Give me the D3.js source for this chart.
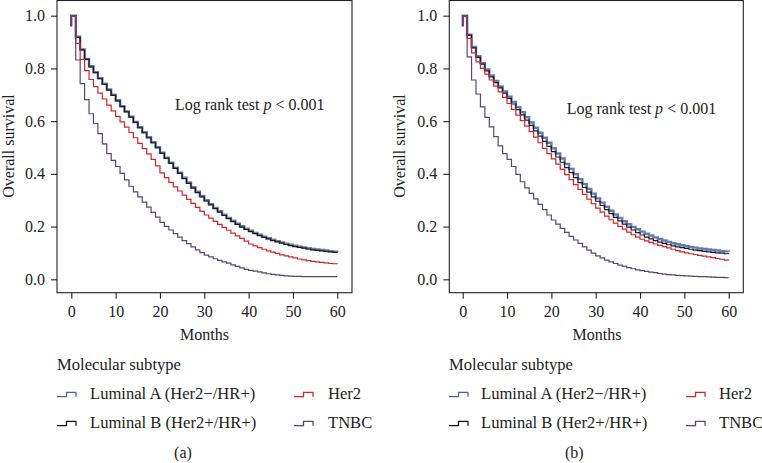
<!DOCTYPE html>
<html><head><meta charset="utf-8">
<script src="https://cdn.jsdelivr.net/npm/d3@7"></script>
<style>
body{margin:0;background:#fff}
svg{display:block;font-family:"Liberation Serif","Times New Roman",serif}
</style>
</head><body>
<svg id="c" width="762" height="463"></svg>
<script>
// ---------- data ----------
const months = d3.range(0, 61);
const xTicks = [0, 10, 20, 30, 40, 50, 60];
const yTicks = [0, 0.2, 0.4, 0.6, 0.8, 1.0];
const groups = ["Luminal A (Her2\u2212/HR+)", "Luminal B (Her2+/HR+)", "Her2", "TNBC"];
const groupColors = ["#4f63a6", "#1a1a1a", "#d7232b", "#5e4473"];
const startTick = 0.96;

// Panel (a)
const a_lumA = [1.0,0.920,0.872,0.836,0.808,0.786,0.763,0.742,0.720,0.700,0.679,0.657,0.637,0.617,0.597,0.577,0.558,0.539,0.520,0.501,0.480,0.461,0.442,0.423,0.404,0.385,0.367,0.349,0.332,0.316,0.300,0.285,0.271,0.258,0.245,0.233,0.222,0.211,0.201,0.192,0.184,0.176,0.169,0.162,0.156,0.150,0.145,0.140,0.135,0.131,0.127,0.124,0.121,0.118,0.115,0.113,0.111,0.109,0.107,0.105,0.104];
const a_lumB = [1.0,0.918,0.870,0.834,0.806,0.784,0.761,0.740,0.718,0.698,0.677,0.655,0.635,0.615,0.595,0.575,0.556,0.537,0.518,0.499,0.478,0.459,0.440,0.421,0.402,0.382,0.364,0.346,0.329,0.313,0.297,0.282,0.268,0.255,0.242,0.230,0.219,0.208,0.198,0.189,0.181,0.173,0.166,0.159,0.153,0.147,0.142,0.137,0.132,0.128,0.124,0.121,0.118,0.115,0.112,0.110,0.108,0.106,0.104,0.102,0.101];
const a_her2 = [1.0,0.895,0.834,0.792,0.758,0.731,0.706,0.684,0.661,0.639,0.618,0.597,0.577,0.557,0.537,0.516,0.496,0.476,0.455,0.430,0.404,0.386,0.368,0.351,0.335,0.319,0.303,0.288,0.273,0.258,0.244,0.232,0.220,0.208,0.197,0.186,0.175,0.165,0.155,0.145,0.134,0.127,0.120,0.114,0.108,0.103,0.098,0.093,0.089,0.085,0.081,0.077,0.074,0.071,0.068,0.066,0.064,0.062,0.060,0.059,0.058];
const a_tnbc = [1.0,0.832,0.742,0.682,0.628,0.591,0.553,0.514,0.477,0.451,0.428,0.402,0.377,0.353,0.332,0.313,0.293,0.274,0.254,0.236,0.216,0.201,0.187,0.173,0.160,0.147,0.135,0.123,0.112,0.101,0.092,0.085,0.078,0.072,0.066,0.061,0.055,0.049,0.043,0.038,0.034,0.031,0.028,0.024,0.021,0.019,0.017,0.015,0.013,0.012,0.011,0.011,0.010,0.010,0.010,0.010,0.010,0.010,0.010,0.010,0.010];

// Panel (b)
const b_lumA = [1.0,0.928,0.881,0.846,0.820,0.796,0.773,0.752,0.732,0.713,0.693,0.673,0.653,0.634,0.615,0.595,0.575,0.556,0.537,0.518,0.497,0.477,0.458,0.438,0.419,0.399,0.380,0.361,0.343,0.325,0.307,0.291,0.275,0.260,0.246,0.233,0.220,0.209,0.199,0.190,0.181,0.173,0.166,0.159,0.153,0.147,0.142,0.137,0.133,0.129,0.126,0.123,0.120,0.117,0.115,0.113,0.111,0.109,0.107,0.106,0.105];
const b_lumB = [1.0,0.926,0.878,0.842,0.816,0.791,0.768,0.746,0.726,0.706,0.686,0.665,0.644,0.624,0.604,0.584,0.563,0.543,0.523,0.504,0.484,0.464,0.444,0.424,0.405,0.386,0.367,0.349,0.331,0.313,0.296,0.280,0.264,0.249,0.235,0.222,0.209,0.198,0.187,0.177,0.168,0.160,0.153,0.147,0.141,0.136,0.131,0.127,0.123,0.120,0.117,0.114,0.111,0.109,0.106,0.104,0.102,0.100,0.099,0.097,0.096];
const b_her2 = [1.0,0.914,0.859,0.825,0.800,0.778,0.756,0.733,0.711,0.690,0.667,0.645,0.623,0.602,0.581,0.560,0.539,0.518,0.497,0.477,0.457,0.437,0.417,0.397,0.378,0.359,0.341,0.322,0.304,0.287,0.270,0.255,0.240,0.226,0.213,0.201,0.190,0.179,0.169,0.160,0.152,0.146,0.140,0.134,0.129,0.124,0.119,0.114,0.109,0.104,0.100,0.097,0.094,0.091,0.088,0.085,0.082,0.079,0.076,0.073,0.071];
const b_tnbc = [1.0,0.844,0.756,0.703,0.654,0.614,0.578,0.541,0.506,0.477,0.455,0.428,0.398,0.370,0.347,0.326,0.305,0.284,0.264,0.244,0.225,0.209,0.193,0.178,0.163,0.149,0.136,0.123,0.111,0.099,0.089,0.081,0.073,0.066,0.060,0.054,0.049,0.044,0.040,0.036,0.033,0.030,0.027,0.025,0.022,0.020,0.018,0.017,0.015,0.014,0.013,0.012,0.011,0.010,0.010,0.009,0.008,0.007,0.007,0.006,0.006];

// ---------- layout ----------
const panels = [
  {cap:"(a)", series:[a_lumA,a_lumB,a_her2,a_tnbc], frameL:57, frameR:352, x0:71.3, x60:337.3,
   ylabX:14, logX:175, logY:109.5, legX:57, legTX:90, leg2X:294, leg2TX:328, monthsX:204.5, capX:183},
  {cap:"(b)", series:[b_lumA,b_lumB,b_her2,b_tnbc], frameL:449.3, frameR:743.3, x0:462.7, x60:728.7,
   ylabX:405, logX:566.7, logY:114, legX:449, legTX:481, leg2X:686, leg2TX:719, monthsX:597, capX:574.3}
];
const frameT = 0.5, frameB = 292.7;
const y = d3.scaleLinear().domain([0, 1]).range([279.3, 15.7]);
const widths = [2.4, 1.2, 1.2, 1.2];
const opac = [0.85, 1, 1, 1];
const svg = d3.select("#c");
const FS = 16, LFS = 16.6;

panels.forEach(p => {
  const g = svg.append("g");
  const x = d3.scaleLinear().domain([0, 60]).range([p.x0, p.x60]);

  // curves
  const line = d3.line().x(d => x(d[0])).y(d => y(d[1])).curve(d3.curveStepAfter);
  p.series.forEach((s, i) => {
    const pts = [[0, startTick]].concat(months.map((m, k) => [m, s[k]]));
    g.append("path").attr("d", line(pts)).attr("fill", "none")
      .attr("stroke", groupColors[i]).attr("stroke-width", widths[i])
      .attr("stroke-opacity", opac[i]);
  });

  // frame
  g.append("rect").attr("x", p.frameL).attr("y", frameT)
    .attr("width", p.frameR - p.frameL).attr("height", frameB - frameT)
    .attr("fill", "none").attr("stroke", "#222").attr("stroke-width", 1.1);

  // y axis
  const ya = g.append("g").attr("transform", `translate(${p.frameL},0)`)
    .call(d3.axisLeft(y).tickValues(yTicks).tickFormat(d3.format(".1f")).tickSize(6).tickPadding(6));
  ya.select(".domain").remove();
  ya.selectAll("line").attr("stroke", "#222").attr("stroke-width", 1.1);
  ya.selectAll("text").attr("font-size", FS).attr("fill", "#222").attr("font-family", "Liberation Serif");

  // x axis
  const xa = g.append("g").attr("transform", `translate(0,${frameB})`)
    .call(d3.axisBottom(x).tickValues(xTicks).tickSize(6).tickPadding(6.5));
  xa.select(".domain").remove();
  xa.selectAll("line").attr("stroke", "#222").attr("stroke-width", 1.1);
  xa.selectAll("text").attr("font-size", FS).attr("fill", "#222").attr("font-family", "Liberation Serif");

  // labels
  g.append("text").attr("transform", `translate(${p.ylabX},146) rotate(-90)`)
    .attr("text-anchor", "middle").attr("font-size", FS).attr("fill", "#222").text("Overall survival");
  g.append("text").attr("x", p.monthsX).attr("y", 339.5).attr("text-anchor", "middle")
    .attr("font-size", FS).attr("fill", "#222").text("Months");
  const lt = g.append("text").attr("x", p.logX).attr("y", p.logY).attr("font-size", FS).attr("fill", "#222");
  lt.append("tspan").text("Log rank test ");
  lt.append("tspan").attr("font-style", "italic").text("p");
  lt.append("tspan").text(" < 0.001");

  // legend
  g.append("text").attr("x", p.legX).attr("y", 369.5).attr("font-size", LFS).attr("fill", "#222").text("Molecular subtype");
  const rowsY = [399.3, 428.3];
  const glyph = d3.line();
  groups.forEach((name, i) => {
    const col = Math.floor(i / 2), row = i % 2;
    const gx = col === 0 ? p.legX : p.leg2X;
    const tx = col === 0 ? p.legTX : p.leg2TX;
    const gy = rowsY[row] - 2.6;
    g.append("path").attr("d", glyph([[gx, gy], [gx + 9.5, gy], [gx + 9.5, gy - 4.3], [gx + 19, gy - 4.3], [gx + 19, gy]]))
      .attr("fill", "none").attr("stroke", groupColors[i]).attr("stroke-width", 1.3);
    g.append("text").attr("x", tx).attr("y", rowsY[row]).attr("font-size", LFS).attr("fill", "#222").text(name);
  });

  g.append("text").attr("x", p.capX).attr("y", 458.3).attr("text-anchor", "middle")
    .attr("font-size", FS).attr("fill", "#222").text(p.cap);
});
</script>
</body></html>
